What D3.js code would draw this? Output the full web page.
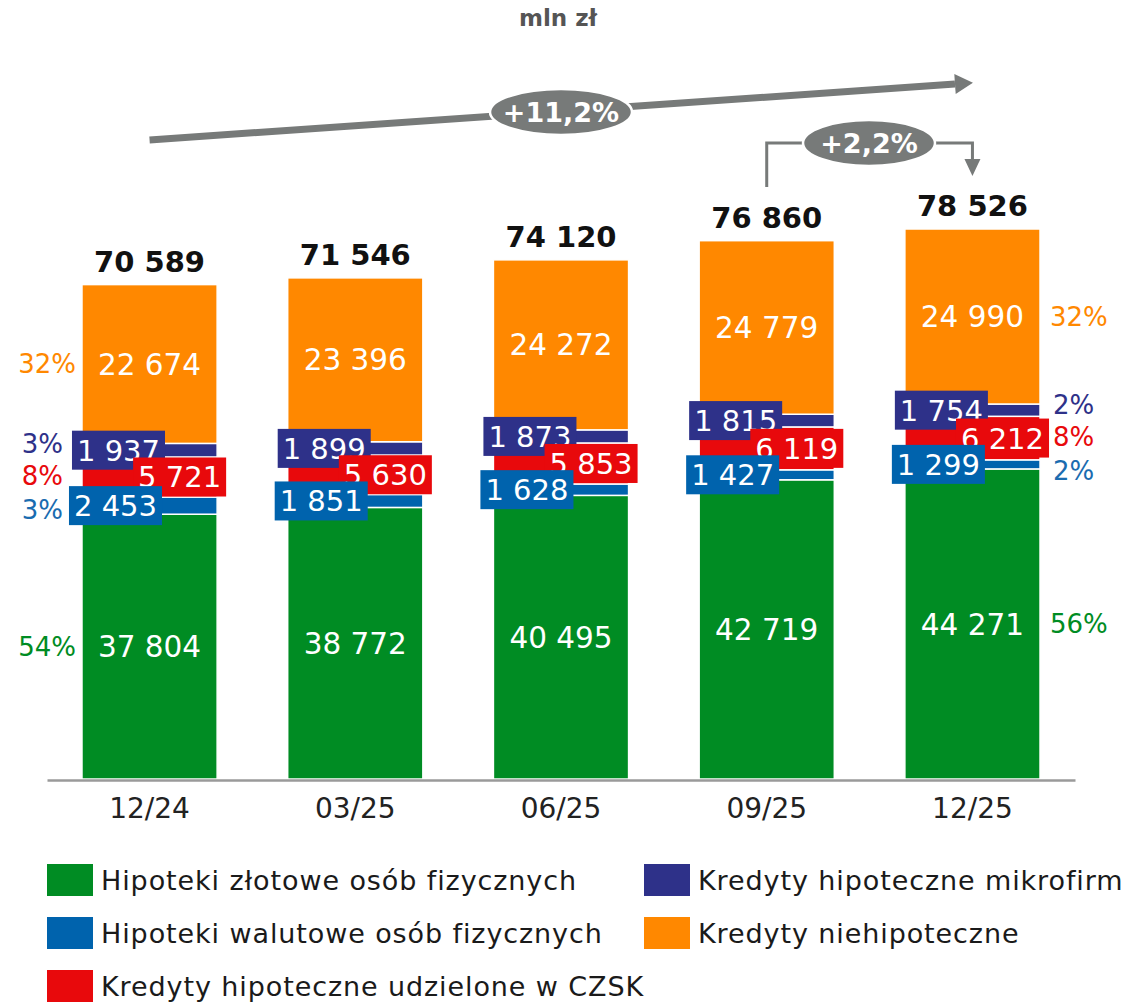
<!DOCTYPE html>
<html>
<head>
<meta charset="utf-8">
<script src="https://cdn.jsdelivr.net/npm/d3@7"></script>
<style>
  html, body { margin: 0; padding: 0; background: #fff; }
  svg { display: block; font-family: "DejaVu Sans", sans-serif; }
</style>
</head>
<body>
<div id="chart"></div>
<script>
// ---- data ----
const categories = ["12/24", "03/25", "06/25", "09/25", "12/25"];
const seriesNames = [
  "Hipoteki złotowe osób fizycznych",
  "Hipoteki walutowe osób fizycznych",
  "Kredyty hipoteczne udzielone w CZSK",
  "Kredyty hipoteczne mikrofirm",
  "Kredyty niehipoteczne"
];
const seriesKeys = ["pln", "fx", "czsk", "micro", "nonmort"];
const plnValues    = [37804, 38772, 40495, 42719, 44271];
const fxValues     = [2453, 1851, 1628, 1427, 1299];
const czskValues   = [5721, 5630, 5853, 6119, 6212];
const microValues  = [1937, 1899, 1873, 1815, 1754];
const nonmortValues= [22674, 23396, 24272, 24779, 24990];
const totals       = [70589, 71546, 74120, 76860, 78526];
const seriesColors = ["#008c23", "#0063ad", "#e8090c", "#2e3189", "#ff8800"];
const pctColors    = ["#008c23", "#1a6cb0", "#e8090c", "#2e3189", "#ff8800"];
const leftPct  = ["54%", "3%", "8%", "3%", "32%"];
const rightPct = ["56%", "2%", "8%", "2%", "32%"];
const unitLabel = "mln zł";
const growthYear = "+11,2%";
const growthQuarter = "+2,2%";

const fmt = v => d3.format(",")(v).replace(/,/g, " ");

const W = 1134, H = 1004;
const svg = d3.select("#chart").append("svg").attr("width", W).attr("height", H);

const rows = categories.map((c, i) => ({
  cat: c, pln: plnValues[i], fx: fxValues[i], czsk: czskValues[i],
  micro: microValues[i], nonmort: nonmortValues[i]
}));
const stacked = d3.stack().keys(seriesKeys)(rows);

const x = d3.scaleBand().domain(categories).range([47, 1075])
  .paddingInner(0.343).paddingOuter(0.17);
const y = d3.scaleLinear().domain([0, 78526]).range([779, 229]);

// bars
const g = svg.append("g");
stacked.forEach((layer, si) => {
  g.selectAll(null).data(layer).enter().append("rect")
    .attr("x", d => x(d.data.cat))
    .attr("width", x.bandwidth())
    .attr("y", d => y(d[1]))
    .attr("height", d => y(d[0]) - y(d[1]))
    .attr("fill", seriesColors[si])
    .attr("stroke", "#fff").attr("stroke-width", 1.5);
});

// axis
const xAxis = svg.append("g").attr("transform", "translate(0,780)")
  .call(d3.axisBottom(x).tickSize(0).tickPadding(18));
xAxis.select(".domain").attr("stroke", "#9a9a9a").attr("stroke-width", 2.5);
xAxis.selectAll("text").attr("font-size", 28).attr("fill", "#222")
  .attr("font-family", "DejaVu Sans, sans-serif");

const valFont = 29.5;
const mid = d => (y(d[0]) + y(d[1])) / 2;

// big segment labels (green, orange)
[0, 4].forEach(si => {
  g.selectAll(null).data(stacked[si]).enter().append("text")
    .attr("x", d => x(d.data.cat) + x.bandwidth() / 2)
    .attr("y", d => mid(d))
    .attr("dy", "0.36em")
    .attr("text-anchor", "middle")
    .attr("font-size", valFont).attr("fill", "#fff")
    .text(d => fmt(d.data[seriesKeys[si]]));
});

// boxed labels for small segments
function boxLabels(si, anchorFn, align) {
  const grp = g.selectAll(null).data(stacked[si]).enter().append("g");
  grp.each(function(d) {
    const el = d3.select(this);
    const t = el.append("text")
      .attr("font-size", 29).attr("fill", "#fff")
      .attr("dy", "0.36em")
      .text(fmt(d.data[seriesKeys[si]]));
    const w = t.node().getComputedTextLength() + 10;
    const hBox = 39;
    const ax = anchorFn(d);
    const left = align === "left" ? ax : ax - w;
    const cy = mid(d);
    el.insert("rect", "text")
      .attr("x", left).attr("y", cy - hBox / 2)
      .attr("width", w).attr("height", hBox)
      .attr("fill", seriesColors[si]);
    t.attr("x", left + 5).attr("y", cy);
  });
}
boxLabels(3, d => x(d.data.cat) - 10, "left");
boxLabels(2, d => x(d.data.cat) + x.bandwidth() + 9, "right");
boxLabels(1, d => x(d.data.cat) - 13, "left");

// totals
g.selectAll(null).data(stacked[4]).enter().append("text")
  .attr("x", d => x(d.data.cat) + x.bandwidth() / 2)
  .attr("y", d => y(d[1]) - 13)
  .attr("text-anchor", "middle")
  .attr("font-size", 29).attr("font-weight", "bold").attr("fill", "#111")
  .text((d, i) => fmt(totals[i]));

// percentage labels
function pctY(si, d) {
  const redMid = mid(stacked[2][d]);
  if (si === 3) return redMid - 33;
  if (si === 1) return redMid + 33;
  if (si === 2) return redMid - 1;
  return mid(stacked[si][d]);
}
const isSmall = si => si === 1 || si === 2 || si === 3;
const first = 0, last = categories.length - 1;
leftPct.forEach((p, si) => {
  svg.append("text")
    .attr("x", x(categories[first]) - (isSmall(si) ? 19 : 6))
    .attr("y", pctY(si, first)).attr("dy", "0.36em")
    .attr("text-anchor", "end")
    .attr("font-size", 26).attr("fill", pctColors[si]).text(p);
});
rightPct.forEach((p, si) => {
  svg.append("text")
    .attr("x", x(categories[last]) + x.bandwidth() + (isSmall(si) ? 13 : 10))
    .attr("y", pctY(si, last)).attr("dy", "0.36em")
    .attr("text-anchor", "start")
    .attr("font-size", 26).attr("fill", pctColors[si]).text(p);
});

// unit label
svg.append("text").attr("x", 558).attr("y", 26).attr("text-anchor", "middle")
  .attr("font-size", 23).attr("font-weight", "bold").attr("fill", "#555")
  .text(unitLabel);

// annotations
const grey = "#777a79";
// long arrow
const ax1 = x(categories[first]) + x.bandwidth() / 2, ay1 = 140;
const ax2 = 955, ay2 = 84;
svg.append("line").attr("x1", ax1).attr("y1", ay1).attr("x2", ax2).attr("y2", ay2)
  .attr("stroke", grey).attr("stroke-width", 7);
const ang = Math.atan2(ay2 - ay1, ax2 - ax1);
const tipX = ax2 + 18 * Math.cos(ang), tipY = ay2 + 18 * Math.sin(ang);
const nx = -Math.sin(ang), ny = Math.cos(ang);
svg.append("path")
  .attr("d", `M${ax2 + nx * 10},${ay2 + ny * 10} L${tipX},${tipY} L${ax2 - nx * 10},${ay2 - ny * 10} Z`)
  .attr("fill", grey);
const ecx = 561, ecy = 112;
svg.append("ellipse").attr("cx", ecx).attr("cy", ecy).attr("rx", 71).attr("ry", 23)
  .attr("fill", grey).attr("stroke", "#fff").attr("stroke-width", 2.5);
svg.append("text").attr("x", ecx).attr("y", ecy).attr("dy", "0.36em")
  .attr("text-anchor", "middle").attr("font-size", 27).attr("font-weight", "bold")
  .attr("fill", "#fff").text(growthYear);

// bracket arrow
const bx1 = x(categories[3]) + x.bandwidth() / 2;
const bx2 = x(categories[4]) + x.bandwidth() / 2;
svg.append("path")
  .attr("d", `M${bx1},187 L${bx1},143 L${bx2},143 L${bx2},160`)
  .attr("fill", "none").attr("stroke", grey).attr("stroke-width", 3);
svg.append("path")
  .attr("d", `M${bx2 - 8},159 L${bx2 + 8},159 L${bx2},176 Z`).attr("fill", grey);
const e2x = 869, e2y = 143;
svg.append("ellipse").attr("cx", e2x).attr("cy", e2y).attr("rx", 66).attr("ry", 23)
  .attr("fill", grey).attr("stroke", "#fff").attr("stroke-width", 2.5);
svg.append("text").attr("x", e2x).attr("y", e2y).attr("dy", "0.36em")
  .attr("text-anchor", "middle").attr("font-size", 27).attr("font-weight", "bold")
  .attr("fill", "#fff").text(growthQuarter);

// legend
const legendPos = [[47, 864], [47, 917], [47, 970], [644, 864], [644, 917]];
seriesNames.forEach((name, i) => {
  const [lx, ly] = legendPos[i];
  svg.append("rect").attr("x", lx).attr("y", ly).attr("width", 46).attr("height", 32)
    .attr("fill", seriesColors[i]);
  svg.append("text").attr("x", lx + 54).attr("y", ly + 16).attr("dy", "0.36em")
    .attr("font-size", 27).attr("letter-spacing", 0.9)
    .attr("fill", "#1a1a1a").text(name);
});
</script>
</body>
</html>
